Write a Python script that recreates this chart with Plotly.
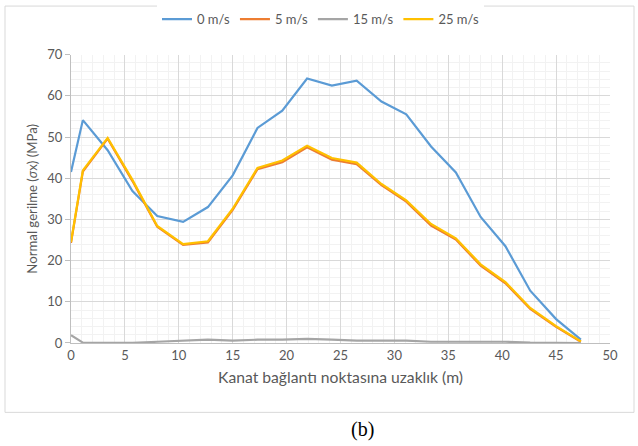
import plotly.graph_objects as go

x_m = [0, 1.1, 3.4, 5.7, 8.0, 10.4, 12.7, 15.0, 17.3, 19.6, 21.9, 24.2, 26.5, 28.8, 31.1, 33.4, 35.7, 38.0, 40.3, 42.6, 45.0, 47.3]
v0 = [41.5, 54.1, 46.8, 36.9, 30.8, 29.4, 33.0, 40.7, 52.2, 56.4, 64.2, 62.5, 63.7, 58.6, 55.5, 47.7, 41.4, 30.6, 23.5, 12.7, 5.8, 0.8]
v5 = [24.3, 41.6, 49.6, 39.3, 28.2, 23.8, 24.4, 32.3, 42.2, 43.9, 47.5, 44.5, 43.4, 38.3, 34.3, 28.5, 25.1, 18.8, 14.5, 8.3, 3.9, 0.3]
v15 = [1.9, 0.1, 0.05, 0.05, 0.3, 0.5, 0.8, 0.6, 0.8, 0.8, 1.0, 0.8, 0.6, 0.6, 0.6, 0.3, 0.3, 0.3, 0.3, 0.1, 0.05, 0.0]
v25 = [24.5, 41.9, 49.8, 39.6, 28.4, 24.0, 24.7, 32.6, 42.5, 44.3, 47.9, 44.9, 43.8, 38.6, 34.6, 28.9, 25.4, 19.1, 14.8, 8.5, 4.1, 0.4]
names = ["0 m/s", "5 m/s", "15 m/s", "25 m/s"]
colors = ["#5b9bd5", "#ed7d31", "#a5a5a5", "#ffc000"]

fig = go.Figure()
for name, vals, c in zip(names, [v0, v5, v15, v25], colors):
    fig.add_trace(go.Scatter(x=x_m, y=vals, mode="lines", name=name,
                             line=dict(color=c, width=2.2)))

font_main = "Lato, 'Open Sans', sans-serif"
fig.update_layout(
    width=638, height=446,
    margin=dict(l=71, r=28, t=52, b=103),
    paper_bgcolor="white", plot_bgcolor="white",
    font=dict(family=font_main, color="#595959", size=13),
    showlegend=True,
    legend=dict(orientation="h", xref="container", x=320.5/638, xanchor="center", y=0.957, yanchor="middle",
                yref="container", font=dict(size=13, color="#595959"),
                tracegroupgap=0),
    xaxis=dict(range=[0, 50], dtick=5, tick0=0, showgrid=True, gridcolor="#d9d9d9",
               minor=dict(dtick=1, showgrid=True, gridcolor="#f2f2f2"),
               showline=True, linecolor="#bfbfbf", ticks="", zeroline=False,
               tickfont=dict(size=13, color="#595959"),
               title=dict(text="Kanat bağlantı noktasına uzaklık (m)", font=dict(size=15.7, color="#595959"), standoff=10)),
    yaxis=dict(range=[0, 70], dtick=10, showgrid=True, gridcolor="#d9d9d9",
               minor=dict(dtick=2, showgrid=True, gridcolor="#f2f2f2"),
               showline=True, linecolor="#bfbfbf", ticks="outside", ticklen=5, tickcolor="#bfbfbf",
               zeroline=False, tickfont=dict(size=13, color="#595959"),
               title=dict(text="Normal gerilme (<i>σ</i>x) (MPa)", font=dict(size=13.2, color="#595959"), standoff=6)),
)

# outer chart frame
fig.add_shape(type="rect", xref="paper", yref="paper",
              x0=-66/539, x1=(634-71)/539, y0=(343-413)/291, y1=(343-3)/291,
              line=dict(color="#d9d9d9", width=1), fillcolor="rgba(0,0,0,0)", layer="below")
fig.add_annotation(text="(b)", xref="paper", yref="paper", x=(362-71)/539, y=(343-430)/291,
                   showarrow=False, font=dict(family="'Liberation Serif', serif", size=20, color="#000000"),
                   xanchor="center", yanchor="middle")

fig.write_html("out.html", config={"displayModeBar": False},
               post_script="document.body.style.margin='0px';document.body.style.padding='0px';")
